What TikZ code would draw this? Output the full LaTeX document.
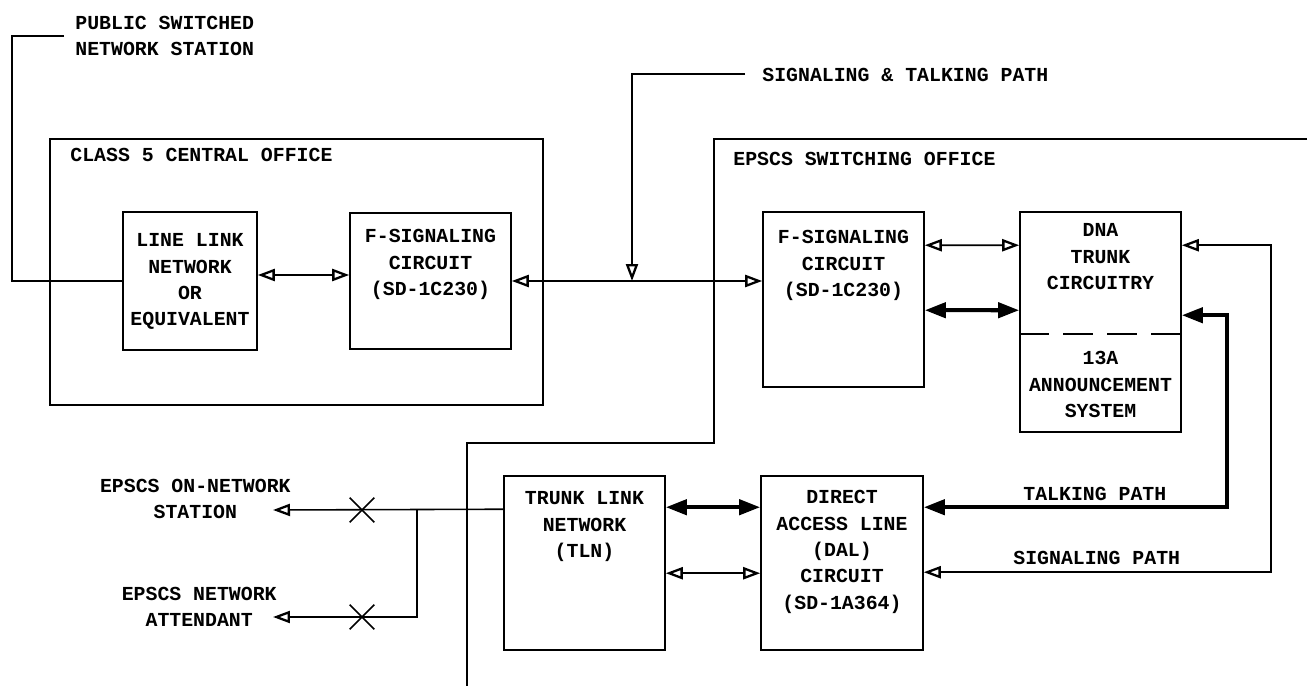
\documentclass[tikz,border=0pt]{standalone}
\usepackage{fontspec}
\setmainfont{Liberation Mono}
\usetikzlibrary{positioning}
\usetikzlibrary{calc}
\usetikzlibrary{arrows.meta}
\usetikzlibrary{shapes.misc}

\begin{document}
\begin{tikzpicture}[x=0.02cm, y=-0.02cm,
        box/.style={draw, line width=0.9pt, inner sep=0pt},
        txt/.style={inner sep=0pt, align=center, font=\fontsize{11.3}{15}\selectfont\bfseries},
        wire/.style={line width=0.9pt},
        sig/.style={line width=0.9pt, >={Triangle[open, length=0.34cm, width=0.24cm, line width=1.3pt]}},
        talk/.style={line width=2.3pt, >={Triangle[length=0.42cm, width=0.3cm]}}]

    \useasboundingbox (0,0) rectangle (1309,689);

    \draw[wire] (50,139) rectangle (543,405);
    \draw[wire] (1307,139) -- (714,139) -- (714,443) -- (467,443) -- (467,686);

    \node[txt, anchor=north west, align=left] (pub) at (75,16) {PUBLIC SWITCHED\\NETWORK STATION};
    \node[txt, anchor=north west] (co) at (70,148) {CLASS 5 CENTRAL OFFICE};
    \node[txt, anchor=north west] (so) at (733,152) {EPSCS SWITCHING OFFICE};
    \node[txt, anchor=north west] (stp) at (762,68) {SIGNALING \& TALKING PATH};
    \node[txt, anchor=north west] (tp) at (1023,487) {TALKING PATH};
    \node[txt, anchor=north west] (sp) at (1013,551) {SIGNALING PATH};
    \node[txt, anchor=north east] (stn) at (291,479) {EPSCS ON-NETWORK\\STATION};
    \node[txt, anchor=north east] (att) at (277,587) {EPSCS NETWORK\\ATTENDANT};

    \node[box, minimum width=2.68cm, minimum height=2.76cm] (lln) at (190,281) {};
    \node[box, minimum width=3.22cm, minimum height=2.72cm] (fsl) at (430.5,281) {};
    \node[box, minimum width=3.22cm, minimum height=3.5cm] (fsr) at (843.5,299.5) {};
    \node[box, minimum width=3.22cm, minimum height=4.4cm] (dna) at (1100.5,322) {};
    \node[box, minimum width=3.22cm, minimum height=3.48cm] (tln) at (584.5,563) {};
    \node[box, minimum width=3.24cm, minimum height=3.48cm] (dal) at (842,563) {};

    \node[txt, below=0.44cm of lln.north] {LINE LINK\\NETWORK\\OR\\EQUIVALENT};
    \node[txt, below=0.34cm of fsl.north] {F-SIGNALING\\CIRCUIT\\(SD-1C230)};
    \node[txt, below=0.38cm of fsr.north] {F-SIGNALING\\CIRCUIT\\(SD-1C230)};
    \node[txt, below=0.24cm of dna.north] {DNA\\TRUNK\\CIRCUITRY};
    \coordinate (dash) at ($(dna.north)+(0,123)$);
    \node[txt, below=0.34cm of dash] {13A\\ANNOUNCEMENT\\SYSTEM};
    \node[txt, below=0.32cm of tln.north] {TRUNK LINK\\NETWORK\\(TLN)};
    \node[txt, below=0.3cm of dal.north] {DIRECT\\ACCESS LINE\\(DAL)\\CIRCUIT\\(SD-1A364)};

    \draw[wire, dash pattern=on 0.6cm off 0.28cm] (dna.west |- dash) -- (dna.east |- dash);

    \coordinate (pubend) at (64,36);
    \coordinate (sigend) at (745,74);
    \coordinate (tap) at (632,281);
    \coordinate (jn) at ($(tln.north west)+(-86,34)$);
    \coordinate (stnpt) at (273,510);
    \coordinate (attpt) at (273,617);

    \node[cross out, draw, line width=0.9pt, minimum size=0.46cm, inner sep=0pt] (x1) at (362,510) {};
    \node[cross out, draw, line width=0.9pt, minimum size=0.46cm, inner sep=0pt] (x2) at (362,617) {};

    \draw[wire] (pubend) -- ++(-52,0) |- (lln.west);
    \draw[sig, <->] ([yshift=0.12cm]lln.east) -- ([yshift=0.12cm]fsl.west);
    \draw[sig, <->] (fsl.east) -- (fsl.east -| fsr.west);
    \draw[sig, ->] (sigend) -| (tap);

    \draw[sig, <->] ($(fsr.north east)+(0,34)$) -- ($(dna.north west)+(0,34)$);
    \draw[talk, <->] ($(fsr.north east)+(0,99)$) -- ($(dna.north west)+(0,99)$);
    \draw[sig, <->] ($(dna.north east)+(0,34)$) -- ++(89,0) |- ($(dal.north east)+(0,97)$);
    \draw[talk, <->] ($(dna.north east)+(0,104)$) -- ++(45,0) |- ($(dal.north east)+(0,32)$);

    \draw[talk, <->] ($(tln.north east)+(0,32)$) -- ($(dal.north west)+(0,32)$);
    \draw[sig, <->] ($(tln.north east)+(0,98)$) -- ($(dal.north west)+(0,98)$);

    \draw[sig, ->] ($(tln.north west)+(0,34)$) -- (stnpt);
    \draw[sig, ->] (jn) |- (attpt);

\end{tikzpicture}
\end{document}
